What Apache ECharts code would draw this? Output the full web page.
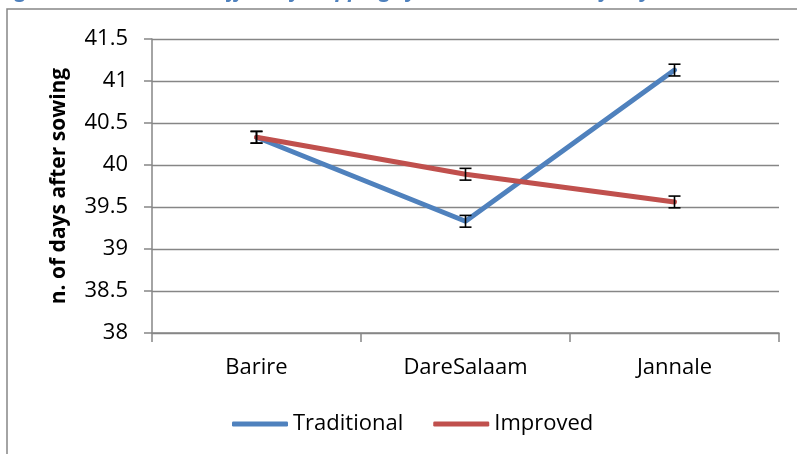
<!DOCTYPE html>
<html>
<head>
<meta charset="utf-8">
<script src="https://cdn.jsdelivr.net/npm/echarts@6/dist/echarts.min.js"></script>
<style>html,body{margin:0;padding:0;background:#fff;}#c{width:797px;height:454px;}</style>
</head>
<body>
<div id="c"></div>
<script>
var categories = ['Barire', 'DareSalaam', 'Jannale'];
var traditional = [40.33, 39.33, 41.13];
var improved = [40.33, 39.89, 39.56];
var traditionalErr = [0.07, 0.07, 0.07];
var improvedErr = [0.07, 0.07, 0.07];
var yTicks = { min: 38, max: 41.5, interval: 0.5 };
var titleText = 'Figure 13: Interaction effect of cropping system on Number of Days at 50% Flower';
var yName = 'n. of days after sowing';

var FONT = 'Open Sans';
var chart = echarts.init(document.getElementById('c'), null, { renderer: 'canvas' });

function errData(vals, errs) {
  return vals.map(function (v, i) { return [i, v - errs[i], v + errs[i]]; });
}
function renderErr(params, api) {
  var x = api.value(0);
  var lo = api.coord([x, api.value(1)]);
  var hi = api.coord([x, api.value(2)]);
  var hw = 6;
  var st = { stroke: '#000', lineWidth: 1.6 };
  return {
    type: 'group',
    children: [
      { type: 'line', shape: { x1: lo[0], y1: lo[1], x2: hi[0], y2: hi[1] }, style: st },
      { type: 'line', shape: { x1: lo[0] - hw, y1: lo[1], x2: lo[0] + hw, y2: lo[1] }, style: st },
      { type: 'line', shape: { x1: hi[0] - hw, y1: hi[1], x2: hi[0] + hw, y2: hi[1] }, style: st }
    ]
  };
}

chart.setOption({
  animation: false,
  backgroundColor: '#fff',
  textStyle: { fontFamily: FONT },
  graphic: [
    { type: 'rect', shape: { x: 7, y: 9, width: 900, height: 600 }, style: { fill: 'none', stroke: '#868686', lineWidth: 1.5 }, z: 0 },
    { type: 'text', left: -2, top: -19, style: { text: titleText, font: 'bold italic 21px "Open Sans"', fill: '#4F81BD' }, z: 10 }
  ],
  grid: { left: 152, right: 18, top: 39, bottom: 121, containLabel: false },
  legend: {
    left: 227, top: 408,
    icon: 'roundRect',
    itemWidth: 56, itemHeight: 5, itemGap: 30,
    textStyle: { fontFamily: FONT, fontSize: 22, color: '#000' },
    data: ['Traditional', 'Improved']
  },
  xAxis: {
    type: 'category', data: categories, boundaryGap: true,
    axisLine: { lineStyle: { color: '#868686', width: 1.5 } },
    axisTick: { show: true, length: 9, alignWithLabel: false, lineStyle: { color: '#868686', width: 1.5 } },
    axisLabel: { fontFamily: FONT, fontSize: 22, color: '#000', margin: 24 }
  },
  yAxis: {
    type: 'value', min: yTicks.min, max: yTicks.max, interval: yTicks.interval,
    name: yName, nameLocation: 'middle', nameGap: 82,
    nameTextStyle: { fontFamily: FONT, fontSize: 21, fontWeight: 'bold', color: '#000' },
    axisLine: { show: true, lineStyle: { color: '#868686', width: 1.5 } },
    axisTick: { show: true, length: 8, lineStyle: { color: '#868686', width: 1.5 } },
    splitLine: { show: true, lineStyle: { color: '#868686', width: 1.3 } },
    axisLabel: { fontFamily: FONT, fontSize: 22, color: '#000', margin: 24 }
  },
  series: [
    { name: 'Traditional', type: 'line', data: traditional, symbol: 'none', color: '#4F81BD',
      lineStyle: { width: 5, color: '#4F81BD', cap: 'round', join: 'round' }, z: 3 },
    { name: 'Improved', type: 'line', data: improved, symbol: 'none', color: '#C0504D',
      lineStyle: { width: 5, color: '#C0504D', cap: 'round', join: 'round' }, z: 4 },
    { type: 'custom', renderItem: renderErr, data: errData(traditional, traditionalErr), z: 10, silent: true },
    { type: 'custom', renderItem: renderErr, data: errData(improved, improvedErr), z: 10, silent: true }
  ]
});
</script>
</body>
</html>
